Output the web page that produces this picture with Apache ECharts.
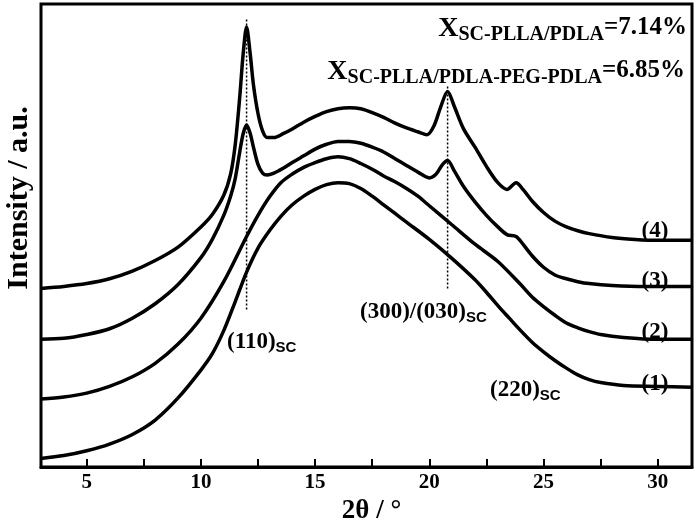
<!DOCTYPE html>
<html>
<head>
<meta charset="utf-8">
<script src="https://cdn.jsdelivr.net/npm/echarts@6/dist/echarts.min.js"></script>
<style>html,body{margin:0;padding:0;background:#fff}#c{width:699px;height:530px}</style>
</head>
<body>
<div id="c"></div>
<script>
// X axis (2θ, degrees) tick values
const xTicks = [5, 7.5, 10, 12.5, 15, 17.5, 20, 22.5, 25, 27.5, 30];
const xLabels = [5, 10, 15, 20, 25, 30];

// Curves: [2θ, intensity (a.u., vertically offset)]
const curve1 = [[3.0,9],[4.0,12],[5.0,17],[6.0,24],[7.0,34],[8.0,49],[9.0,72],[10.0,101],[10.5,118],[11.0,142],[11.5,172],[12.0,203],[12.5,228],[13.0,246],[13.5,261],[14.0,273],[14.5,282],[15.0,289],[15.5,294],[16.0,296],[16.5,295],[17.0,290],[17.5,282],[18.0,273],[18.5,264],[19.0,255],[20.0,237],[21.0,217],[22.0,195],[22.5,182],[23.0,168],[23.5,155],[24.0,142],[24.5,130],[25.0,120],[25.5,111],[26.0,103],[26.5,96],[27.0,91],[27.5,88],[28.5,85],[30.0,84],[31.5,83]];
const curve2 = [[3.0,71],[4.0,73],[5.0,77],[6.0,84],[7.0,94],[8.0,108],[9.0,128],[10.0,155],[11.0,193],[12.0,240],[12.5,262],[13.0,281],[13.5,296],[14.0,305],[14.5,312],[15.0,317],[15.5,321],[16.0,323],[16.5,321],[17.0,316],[17.5,310],[18.0,303],[18.5,297],[19.0,290],[19.5,282],[20.0,272],[21.0,252],[22.0,232],[23.0,214],[24.0,190],[24.5,177],[25.0,167],[25.5,158],[26.0,150],[26.5,145],[27.0,141],[27.5,138],[28.5,135],[30.0,133],[31.5,133]];
const curve3 = [[3.0,133],[4.0,134],[5.0,138],[6.0,144],[7.0,155],[8.0,170],[9.0,190],[10.0,218],[10.5,237],[11.0,262],[11.3,282],[11.5,300],[11.7,328],[11.85,347],[12.0,356],[12.15,348],[12.3,333],[12.5,315],[12.7,306],[12.9,304],[13.2,306],[13.6,311],[14.0,317],[14.5,324],[15.0,331],[15.5,336],[16.0,339],[16.5,339],[17.0,337],[17.5,333],[18.0,328],[18.5,321],[19.0,314],[19.5,307],[20.0,301],[20.3,305],[20.55,314],[20.8,319],[21.1,308],[21.5,292],[22.0,276],[22.5,262],[23.0,250],[23.4,242],[23.8,240],[24.1,232],[24.5,220],[25.0,208],[25.5,200],[26.0,196],[26.5,193],[27.0,191],[28.0,189],[29.5,188],[31.5,188]];
const curve4 = [[3.0,186],[4.0,188],[5.0,191],[6.0,196],[7.0,204],[8.0,215],[9.0,229],[10.0,250],[10.5,263],[11.0,283],[11.3,305],[11.5,335],[11.7,385],[11.85,430],[12.0,458],[12.15,432],[12.3,398],[12.5,368],[12.7,350],[12.9,343],[13.2,343],[13.6,347],[14.0,352],[14.5,359],[15.0,365],[15.5,370],[16.0,373],[16.5,374],[17.0,373],[17.5,369],[18.0,364],[18.5,358],[19.0,353],[19.5,349],[19.9,346],[20.2,355],[20.5,375],[20.8,391],[21.1,375],[21.5,352],[22.0,333],[22.5,313],[23.0,296],[23.4,289],[23.8,296],[24.1,289],[24.5,277],[25.0,265],[25.5,256],[26.0,250],[26.5,246],[27.0,243],[28.0,239],[29.0,237],[30.0,236],[31.5,236]];

// Dotted reference lines at SC peaks
const peak110 = [[12.0,164],[12.0,466]];
const peak300 = [[20.8,186],[20.8,398]];

const serif = '"Liberation Serif", "Times New Roman", serif';
const sans = '"Liberation Sans", Arial, sans-serif';

const chart = echarts.init(document.getElementById('c'), null, {renderer: 'canvas'});

function curve(data) {
  return {type: 'line', data: data, showSymbol: false, smooth: 0.3, animation: false,
    lineStyle: {color: '#000', width: 3.5}, silent: true};
}
function dotted(data) {
  return {type: 'line', data: data, showSymbol: false, animation: false,
    lineStyle: {color: '#000', width: 1.5, type: [2, 2]}, silent: true};
}

const richBase = {
  m: {fontSize: 23, fontWeight: 'bold', fontFamily: serif, color: '#000', verticalAlign: 'top', lineHeight: 24},
  s: {fontSize: 15, fontWeight: 'bold', fontFamily: sans, color: '#000', verticalAlign: 'bottom', lineHeight: 16, padding: [11, 0, 0, 0]},
  X: {fontSize: 28, fontWeight: 'bold', fontFamily: serif, color: '#000', verticalAlign: 'top', lineHeight: 30},
  xs: {fontSize: 20, fontWeight: 'bold', fontFamily: serif, color: '#000', verticalAlign: 'bottom', lineHeight: 22, padding: [13, 0, 0, 0]},
  v: {fontSize: 25, fontWeight: 'bold', fontFamily: serif, color: '#000', verticalAlign: 'top', lineHeight: 30}
};

function txt(x, y, text, align) {
  return {type: 'text', x: x, y: y, silent: true,
    style: {text: text, rich: richBase, align: align || 'left', verticalAlign: 'middle'}};
}

chart.setOption({
  animation: false,
  backgroundColor: '#fff',
  grid: {left: 41, right: 7, top: 4, bottom: 44, show: true, borderColor: '#000', borderWidth: 3, backgroundColor: 'transparent'},
  xAxis: {
    type: 'value', min: 3, max: 31.5,
    name: '2θ / °', nameLocation: 'middle', nameGap: 21,
    nameTextStyle: {fontSize: 27, fontWeight: 'bold', fontFamily: serif, color: '#000', padding: [0, 0, 0, 10]},
    axisLine: {show: true, onZero: false, lineStyle: {color: '#000', width: 3}},
    axisTick: {show: true, inside: true, length: 8, lineStyle: {color: '#000', width: 2}, customValues: xTicks},
    axisLabel: {show: true, customValues: xLabels, fontSize: 21, fontWeight: 'bold', fontFamily: serif, color: '#000', margin: 5},
    splitLine: {show: false}, minorTick: {show: false}
  },
  yAxis: {
    type: 'value', min: 0, max: 482,
    axisLine: {show: false}, axisTick: {show: false}, axisLabel: {show: false}, splitLine: {show: false}
  },
  series: [curve(curve1), curve(curve2), curve(curve3), curve(curve4), dotted(peak110), dotted(peak300)],
  graphic: [
    {type: 'text', x: 19, y: 198, rotation: Math.PI / 2, silent: true,
      style: {text: 'Intensity / a.u.', fontSize: 30, fontWeight: 'bold', fontFamily: serif, fill: '#000', align: 'center', verticalAlign: 'middle'}},
    txt(687, 30, '{X|X}{xs|SC-PLLA/PDLA}{v|=7.14%}', 'right'),
    txt(685, 73, '{X|X}{xs|SC-PLLA/PDLA-PEG-PDLA}{v|=6.85%}', 'right'),
    txt(227, 343, '{m|(110)}{s|SC}'),
    txt(360, 313, '{m|(300)/(030)}{s|SC}'),
    txt(490, 391, '{m|(220)}{s|SC}'),
    txt(655, 232, '{m|(4)}', 'center'),
    txt(655, 282, '{m|(3)}', 'center'),
    txt(655, 333, '{m|(2)}', 'center'),
    txt(655, 385, '{m|(1)}', 'center')
  ]
});
</script>
</body>
</html>
